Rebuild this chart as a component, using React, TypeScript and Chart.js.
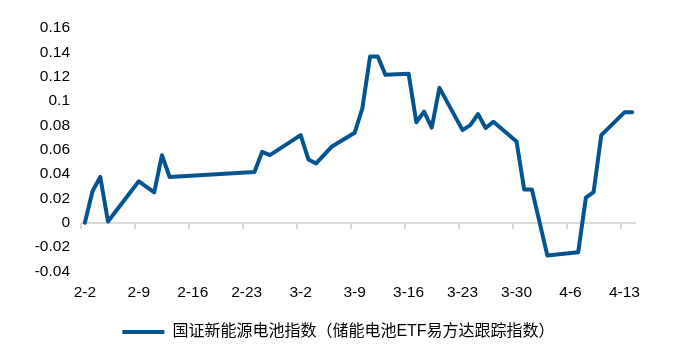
import React, { useEffect, useRef } from 'react';
import { Chart, registerables } from 'chart.js';

Chart.register(...registerables);

// ---- Data ----
const seriesName = '国证新能源电池指数（储能电池ETF易方达跟踪指数）';
const firstDay = [2021, 2, 2]; // year, month, day of first category
const lastDay = [2021, 4, 14];
const dates = [
  '2-2', '2-3', '2-4', '2-5', '2-9', '2-11', '2-12', '2-13',
  '2-24', '2-25', '2-26', '3-2', '3-3', '3-4', '3-6', '3-9',
  '3-10', '3-11', '3-12', '3-13', '3-16', '3-17', '3-18', '3-19',
  '3-20', '3-23', '3-24', '3-25', '3-26', '3-27', '3-30', '3-31',
  '4-1', '4-3', '4-7', '4-8', '4-9', '4-10', '4-13', '4-14',
];
const values = [
  0, 0.026, 0.0376, 0.001, 0.034, 0.025, 0.0555, 0.0376,
  0.0417, 0.0582, 0.0555, 0.072, 0.052, 0.0487, 0.0624, 0.0739,
  0.094, 0.1366, 0.1366, 0.1215, 0.1225, 0.0826, 0.0912, 0.0782,
  0.1108, 0.0761, 0.0802, 0.0893, 0.0778, 0.083, 0.0668, 0.0272,
  0.0272, -0.027, -0.0242, 0.0206, 0.0252, 0.072, 0.0907, 0.0907,
];
const xTickLabels = ['2-2', '2-9', '2-16', '2-23', '3-2', '3-9', '3-16', '3-23', '3-30', '4-6', '4-13'];
const yMin = -0.04;
const yMax = 0.16;
const yStep = 0.02;

const lineColor = '#03548f';

function buildCategories(): string[] {
  const out: string[] = [];
  const d = new Date(firstDay[0], firstDay[1] - 1, firstDay[2]);
  const end = new Date(lastDay[0], lastDay[1] - 1, lastDay[2]);
  while (d <= end) {
    out.push(`${d.getMonth() + 1}-${d.getDate()}`);
    d.setDate(d.getDate() + 1);
  }
  return out;
}

const categories = buildCategories();
const seriesData = categories.map((c) => {
  const i = dates.indexOf(c);
  return i >= 0 ? values[i] : null;
});

const zeroAxisPlugin = {
  id: 'zeroAxis',
  beforeDatasetsDraw(chart: any) {
    const { ctx, chartArea, scales } = chart;
    const xs = scales.x;
    const y0 = Math.round(scales.y.getPixelForValue(0));
    const step = (chartArea.right - chartArea.left) / categories.length;
    ctx.save();
    ctx.strokeStyle = '#d9d9d9';
    ctx.lineWidth = 2;
    ctx.beginPath();
    ctx.moveTo(chartArea.left, y0);
    ctx.lineTo(chartArea.right, y0);
    categories.forEach((c, i) => {
      if (xTickLabels.includes(c)) {
        const px = Math.round(xs.getPixelForValue(i) - step / 2);
        ctx.moveTo(px, y0);
        ctx.lineTo(px, y0 + 6);
      }
    });
    ctx.stroke();
    ctx.restore();
  },
};

const latin = '"Liberation Sans", Arial, sans-serif';
const cjk = '"Liberation Sans", "Noto Sans CJK SC", sans-serif';

export default function App() {
  const ref = useRef<HTMLCanvasElement | null>(null);
  useEffect(() => {
    if (!ref.current) return;
    const chart = new Chart(ref.current, {
      type: 'line',
      data: {
        labels: categories,
        datasets: [
          {
            label: seriesName,
            data: seriesData,
            borderColor: lineColor,
            backgroundColor: lineColor,
            borderWidth: 4,
            pointRadius: 0,
            pointHoverRadius: 0,
            tension: 0,
            spanGaps: true,
            borderJoinStyle: 'round',
            borderCapStyle: 'round',
            pointStyle: 'line',
          },
        ],
      },
      options: {
        animation: false,
        responsive: true,
        maintainAspectRatio: false,
        layout: { padding: { left: 0, right: 11, top: 28, bottom: 4 } },
        plugins: {
          tooltip: { enabled: false },
          legend: {
            position: 'bottom',
            labels: {
              usePointStyle: true,
              pointStyleWidth: 42,
              padding: 10,
              color: '#000',
              font: { family: cjk, size: 16 },
            },
          },
        },
        scales: {
          x: {
            type: 'category',
            offset: true,
            grid: { display: false, drawTicks: false },
            border: { display: false },
            ticks: {
              autoSkip: false,
              maxRotation: 0,
              minRotation: 0,
              padding: 12,
              color: '#000',
              font: { family: latin, size: 15.5 },
              callback: (_v: any, i: number) => (xTickLabels.includes(categories[i]) ? categories[i] : ''),
            },
          },
          y: {
            min: yMin,
            max: yMax,
            grid: { display: false, drawTicks: false },
            border: { display: false },
            ticks: {
              stepSize: yStep,
              padding: 11,
              color: '#000',
              font: { family: latin, size: 15.5 },
              callback: (v: any) => String(Number(Number(v).toFixed(2))),
            },
            afterFit: (s: any) => {
              s.width = 81;
            },
          },
          y2: {
            position: 'right',
            min: 0,
            max: 1,
            grid: { display: false, drawTicks: false },
            border: { display: false },
            ticks: { display: false },
            afterFit: (s: any) => {
              s.width = 41;
            },
          },
        },
      },
      plugins: [zeroAxisPlugin],
    } as any);
    return () => chart.destroy();
  }, []);
  return (
    <div style={{ position: 'fixed', left: 0, top: 0, width: 688, height: 354, background: '#fff' }}>
      <canvas ref={ref} />
    </div>
  );
}
